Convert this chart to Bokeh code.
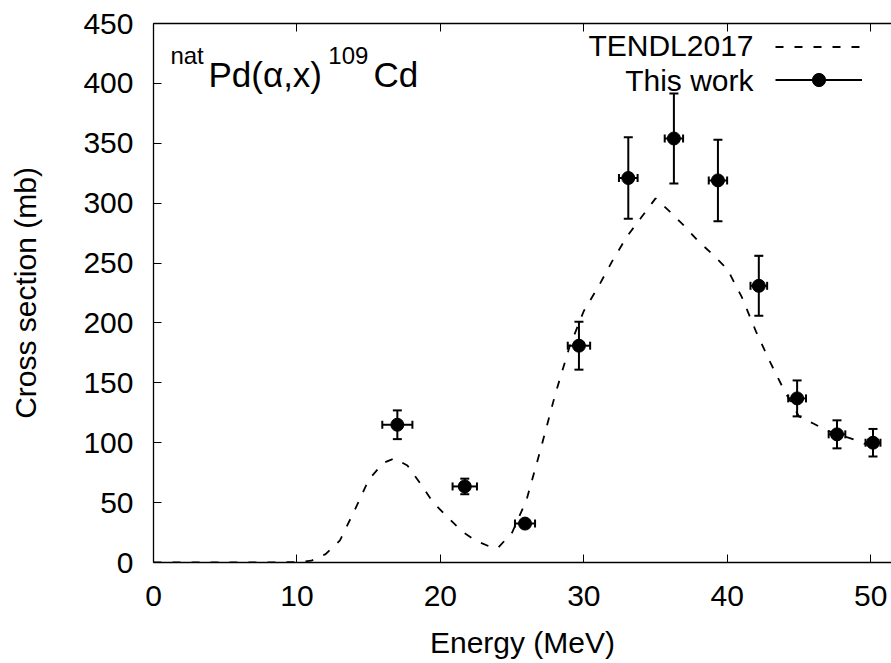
import numpy as np
from bokeh.plotting import figure
from bokeh.models import (Range1d, LinearAxis, Whisker, TeeHead, ColumnDataSource, Label,
                          Legend, LegendItem, FixedTicker, CustomJSTickFormatter)
from bokeh.embed import file_html
from bokeh.resources import INLINE

# ---- data ----
x_ticks = [0, 10, 20, 30, 40, 50]
y_ticks = [0, 50, 100, 150, 200, 250, 300, 350, 400, 450]

tendl_energy = [0, 2, 4, 6, 8, 10, 11, 12, 13, 14, 15, 16, 16.8, 17.7, 18.6, 19.5, 20.5,
                21.5, 22.5, 23.5, 24, 25, 26, 27, 28, 29, 30, 31, 32, 33, 34, 35, 36, 37,
                38, 39, 40, 41, 42, 43, 44, 45, 46, 47, 48, 49, 50]
tendl_xs = [0, 0, 0, 0, 0, 0.3, 1.5, 7, 18.5, 43, 69, 83, 87, 81, 66, 50, 38,
            26, 18, 13, 12, 25, 52, 95, 140, 180, 210, 230, 252, 272, 288, 304, 293, 281,
            268, 257, 245, 222, 193, 167, 143, 122, 116, 110, 106, 102, 97]

energy = [17.0, 21.7, 25.9, 29.66, 33.1, 36.28, 39.35, 42.2, 44.87, 47.65, 50.16]
energy_err = [1.05, 0.85, 0.7, 0.78, 0.65, 0.64, 0.64, 0.58, 0.62, 0.58, 0.52]
xs = [115, 63.5, 32.5, 181, 321, 354, 319, 231, 137, 107, 100]
xs_err = [12, 6.5, 3, 20, 34, 37.5, 34, 25, 15, 11.7, 11.5]

FONT = "Liberation Sans"

p = figure(width=891, height=663, output_backend="svg", toolbar_location=None,
           x_range=Range1d(0, 51.45), y_range=Range1d(0, 450),
           min_border_left=153, min_border_right=0, min_border_top=23, min_border_bottom=101,
           background_fill_color="white", border_fill_color="white")
p.xgrid.visible = False
p.ygrid.visible = False
p.outline_line_color = None

def style_axis(ax, ticks):
    ax.ticker = FixedTicker(ticks=ticks, minor_ticks=[])
    ax.major_tick_in = 8
    ax.major_tick_out = 0
    ax.minor_tick_in = 0
    ax.minor_tick_out = 0
    ax.axis_line_width = 1.3
    ax.axis_line_color = "black"
    ax.major_tick_line_color = "black"
    ax.major_tick_line_width = 1
    ax.major_label_text_font = FONT
    ax.major_label_text_font_size = "30px"
    ax.major_label_text_color = "black"
    ax.axis_label_text_font = FONT
    ax.axis_label_text_font_size = "30px"
    ax.axis_label_text_font_style = "normal"
    ax.axis_label_text_color = "black"

xa = p.xaxis[0]
ya = p.yaxis[0]
style_axis(xa, x_ticks)
style_axis(ya, y_ticks)
xa.axis_label = "Energy (MeV)"
ya.axis_label = "Cross section (mb)"
xa.major_label_standoff = 23
xa.axis_label_standoff = 17
ya.major_label_standoff = 20
ya.axis_label_standoff = 38

top = LinearAxis(formatter=CustomJSTickFormatter(code="return ''"))
style_axis(top, x_ticks)
top.major_label_standoff = 0
p.add_layout(top, "above")

# TENDL curve
r_line = p.line(tendl_energy, tendl_xs, line_color="black", line_width=1.8, line_dash="8 11")

# measured points
e = np.array(energy); de = np.array(energy_err)
s = np.array(xs, dtype=float); ds = np.array(xs_err)
src = ColumnDataSource(dict(e=e, s=s, e_lo=e - de, e_hi=e + de, s_lo=s - ds, s_hi=s + ds))

p.add_layout(Whisker(source=src, base="e", lower="s_lo", upper="s_hi", dimension="height",
                     line_width=2, line_color="black",
                     upper_head=TeeHead(size=9, line_width=2, line_color="black"),
                     lower_head=TeeHead(size=9, line_width=2, line_color="black")))
r_seg = p.segment(x0="e_lo", y0="s", x1="e_hi", y1="s", source=src, line_width=2, line_color="black")
p.add_layout(Whisker(source=src, base="s", lower="e_lo", upper="e_hi", dimension="width",
                     line_alpha=0,
                     upper_head=TeeHead(size=8, line_width=2, line_color="black"),
                     lower_head=TeeHead(size=8, line_width=2, line_color="black")))
r_pts = p.scatter("e", "s", source=src, marker="circle", size=13,
                  fill_color="black", line_color="black")

# legend glyph samples (text drawn separately, left of samples)
legend = Legend(items=[LegendItem(label="", renderers=[r_line]),
                       LegendItem(label="", renderers=[r_seg, r_pts])],
                location=(622, 466), orientation="vertical", glyph_width=87, glyph_height=33,
                label_width=0, label_standoff=0, label_height=0, spacing=0, padding=0, margin=0,
                border_line_color=None, background_fill_alpha=0)
p.add_layout(legend)

def lab(x, y, text, size, align="left"):
    p.add_layout(Label(x=x, y=y, text=text, text_font=FONT, text_font_size=size,
                       text_color="black", text_align=align, text_baseline="alphabetic"))

lab(41.83, 431.4, "TENDL2017", "30px", "right")
lab(41.83, 402.1, "This work", "30px", "right")

lab(1.18, 423.1, "nat", "24px")
lab(3.83, 407.5, "Pd(α,x)", "35px")
lab(12.19, 423.1, "109", "24px")
lab(15.33, 407.5, "Cd", "35px")

open("out.html", "w").write(file_html(p, INLINE))
